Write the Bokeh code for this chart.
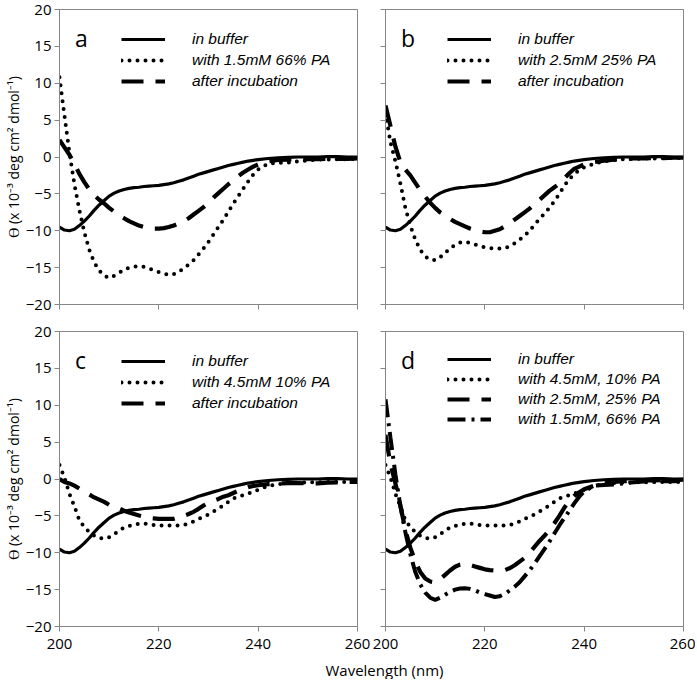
from bokeh.plotting import figure
from bokeh.layouts import column, row
from bokeh.models import Range1d, FixedTicker, Legend, LegendItem, Label
from bokeh.embed import file_html
from bokeh.resources import INLINE

# ---------------- data ----------------
wavelength = [200, 201, 202, 203, 204, 205, 206, 207, 208, 209,
              210, 211, 212, 213, 214, 215, 216, 217, 218, 219,
              220, 221, 222, 223, 224, 225, 226, 227, 228, 229,
              230, 231, 232, 233, 234, 235, 236, 237, 238, 239,
              240,
              242, 244, 246, 248, 250, 252, 254, 256, 258, 260]

in_buffer = [-9.5, -9.9, -10.0, -9.8, -9.3, -8.7, -8.0, -7.2, -6.5, -5.9,
             -5.3, -4.9, -4.6, -4.4, -4.25, -4.15, -4.1, -4.0, -3.95, -3.9,
             -3.85, -3.75, -3.65, -3.5, -3.3, -3.1, -2.85, -2.6, -2.35, -2.15,
             -1.95, -1.75, -1.55, -1.35, -1.15, -1.0, -0.85, -0.7, -0.55, -0.45,
             -0.35,
             -0.2, -0.1, -0.05, 0.0, 0.0, 0.0, 0.05, 0.05, 0.0, 0.0]

pa66_1_5mM = [10.8, 5.6, 0.6, -3.7, -7.2, -10.2, -12.6, -14.3, -15.4, -16.1,
              -16.4, -16.1, -15.7, -15.3, -15.0, -14.85, -14.8, -14.9, -15.1, -15.4,
              -15.6, -15.8, -16.0, -15.9, -15.6, -15.1, -14.6, -14.0, -13.2, -12.4,
              -11.5, -10.5, -9.5, -8.5, -7.4, -6.3, -5.3, -4.3, -3.3, -2.4,
              -1.7,
              -0.9, -0.8, -0.75, -0.6, -0.45, -0.35, -0.35, -0.3, -0.3, -0.25]

pa66_incubated = [2.3, 1.3, 0.3, -0.9, -2.3, -3.4, -4.4, -5.2, -5.8, -6.3,
                  -6.9, -7.4, -7.9, -8.3, -8.7, -9.0, -9.3, -9.5, -9.65, -9.7,
                  -9.7, -9.65, -9.5, -9.3, -9.0, -8.7, -8.3, -7.8, -7.3, -6.8,
                  -6.2, -5.5, -4.9, -4.3, -3.7, -3.2, -2.6, -2.1, -1.7, -1.3,
                  -1.0,
                  -0.6, -0.4, -0.35, -0.3, -0.3, -0.3, -0.25, -0.25, -0.25, -0.2]

pa25_2_5mM = [6.0, 2.0, -0.6, -3.6, -6.9, -9.3, -11.2, -12.6, -13.5, -13.9,
              -14.0, -13.6, -13.0, -12.4, -11.9, -11.6, -11.5, -11.65, -11.85, -12.05,
              -12.25, -12.35, -12.4, -12.4, -12.35, -12.1, -11.7, -11.2, -10.7, -10.0,
              -9.2, -8.4, -7.7, -6.9, -6.0, -5.0, -3.9, -3.0, -2.3, -1.8,
              -1.4,
              -0.9, -0.6, -0.4, -0.3, -0.25, -0.2, -0.2, -0.15, -0.15, -0.1]

pa25_incubated = [7.0, 4.2, 1.4, -0.7, -1.7, -2.5, -3.5, -4.5, -5.4, -6.2,
                  -6.9, -7.5, -7.9, -8.4, -8.8, -9.1, -9.4, -9.7, -9.9, -10.1,
                  -10.2, -10.2, -10.0, -9.8, -9.4, -9.0, -8.5, -8.0, -7.5, -7.0,
                  -6.4, -5.8, -5.2, -4.6, -4.1, -3.6, -2.9, -2.2, -1.6, -1.3,
                  -1.0,
                  -0.7, -0.5, -0.35, -0.25, -0.2, -0.2, -0.15, -0.15, -0.1, -0.1]

pa10_4_5mM = [1.9, 0.2, -2.0, -3.7, -5.6, -6.5, -7.2, -7.7, -8.0, -8.1,
              -7.9, -7.5, -7.0, -6.6, -6.35, -6.2, -6.05, -6.05, -6.15, -6.25,
              -6.3, -6.3, -6.3, -6.3, -6.3, -6.25, -6.0, -5.75, -5.4, -5.1,
              -4.8, -4.4, -4.0, -3.6, -3.1, -2.65, -2.4, -2.2, -1.95, -1.75,
              -1.45,
              -0.95, -0.7, -0.55, -0.5, -0.45, -0.45, -0.4, -0.4, -0.4, -0.4]

pa10_incubated = [0.0, -0.4, -0.6, -0.9, -1.3, -1.75, -2.1, -2.5, -2.8, -3.1,
                  -3.5, -3.8, -4.0, -4.3, -4.55, -4.75, -4.95, -5.1, -5.3, -5.35,
                  -5.4, -5.4, -5.4, -5.4, -5.2, -5.0, -4.75, -4.45, -4.05, -3.6,
                  -3.2, -2.95, -2.7, -2.4, -2.2, -1.9, -1.6, -1.35, -1.1, -0.95,
                  -0.85,
                  -0.7, -0.6, -0.55, -0.55, -0.6, -0.6, -0.5, -0.45, -0.4, -0.4]

x_ticks = [200, 220, 240, 260]
y_ticks = [-20, -15, -10, -5, 0, 5, 10, 15, 20]
y_title = "ϴ (x 10⁻³ deg cm² dmol⁻¹)"
x_title = "Wavelength (nm)"

# ---------------- styling ----------------
AX = "#868686"
FONT = "Open Sans"
LEG_FONT = "Liberation Sans"
P_W = 298
P_H = 295

STYLES = {
    "solid":   dict(line_width=3.2, line_dash="solid", line_cap="butt"),
    "dotted":  dict(line_width=4.0, line_dash="0 8", line_cap="round"),
    "dashed":  dict(line_width=4.2, line_dash="22 12", line_cap="butt"),
    "dashdot": dict(line_width=4.0, line_dash="18 6 3 6", line_cap="butt"),
}


def make_panel(left_col, top_row, letter, series, legend_y):
    bl = 59 if left_col else 14
    br = 14 if left_col else 12
    bt = 9 if top_row else 18
    bb = 9 if top_row else 31
    p = figure(width=bl + P_W + br, height=bt + P_H + bb,
               x_range=Range1d(200, 260), y_range=Range1d(-20, 20),
               toolbar_location=None, output_backend="svg",
               min_border_left=bl, min_border_right=br,
               min_border_top=bt, min_border_bottom=bb)
    p.xgrid.visible = False
    p.ygrid.visible = False
    p.outline_line_color = AX
    p.outline_line_width = 1
    p.background_fill_color = "white"
    p.border_fill_color = "white"

    p.xaxis.ticker = FixedTicker(ticks=x_ticks)
    p.yaxis.ticker = FixedTicker(ticks=y_ticks)
    for ax in (p.xaxis[0], p.yaxis[0]):
        ax.axis_line_color = AX
        ax.major_tick_line_color = AX
        ax.minor_tick_line_color = None
        ax.major_tick_in = 0
        ax.major_tick_out = 5
        ax.major_label_text_font = FONT
        ax.major_label_text_font_size = "15px"
        ax.major_label_text_color = "black"

    if top_row:
        # ticks only, no labels (as in the reference)
        p.xaxis.major_label_text_font_size = "0px"
        p.xaxis.major_label_text_color = None
        p.xaxis.major_label_standoff = 0
    else:
        p.xaxis.major_label_standoff = 7

    if left_col:
        p.yaxis.major_label_standoff = 3
        p.yaxis.axis_label = y_title
        p.yaxis.axis_label_text_font = FONT
        p.yaxis.axis_label_text_font_size = "14px"
        p.yaxis.axis_label_text_font_style = "normal"
        p.yaxis.axis_label_text_color = "black"
        p.yaxis.axis_label_standoff = 0
    else:
        p.yaxis.major_label_text_font_size = "0px"
        p.yaxis.major_label_text_color = None
        p.yaxis.major_label_standoff = 0

    items = []
    for label, ys, style in series:
        r = p.line(wavelength, ys, line_color="black", **STYLES[style])
        items.append(LegendItem(label=label, renderers=[r]))

    legend = Legend(items=items, location=(62, legend_y),
                    background_fill_alpha=0, border_line_alpha=0,
                    padding=0, margin=0,
                    spacing=1 if len(items) == 3 else 0,
                    glyph_width=44, glyph_height=20, label_height=20,
                    label_standoff=27,
                    label_text_font=LEG_FONT, label_text_font_style="italic",
                    label_text_font_size="15.5px", label_text_color="black")
    p.add_layout(legend)

    p.add_layout(Label(x=203.1, y=16.2, text=letter, text_font=FONT,
                       text_font_size="23px", text_color="black",
                       text_baseline="alphabetic", text_align="left"))
    return p


pa = make_panel(True, True, "a", [
    ("in buffer", in_buffer, "solid"),
    ("with 1.5mM 66% PA", pa66_1_5mM, "dotted"),
    ("after incubation", pa66_incubated, "dashed"),
], 213)

pb = make_panel(False, True, "b", [
    ("in buffer", in_buffer, "solid"),
    ("with 2.5mM 25% PA", pa25_2_5mM, "dotted"),
    ("after incubation", pa25_incubated, "dashed"),
], 213)

pc = make_panel(True, False, "c", [
    ("in buffer", in_buffer, "solid"),
    ("with 4.5mM 10% PA", pa10_4_5mM, "dotted"),
    ("after incubation", pa10_incubated, "dashed"),
], 213)

pd = make_panel(False, False, "d", [
    ("in buffer", in_buffer, "solid"),
    ("with 4.5mM, 10% PA", pa10_4_5mM, "dotted"),
    ("with 2.5mM, 25% PA", pa25_2_5mM, "dashed"),
    ("with 1.5mM, 66% PA", pa66_1_5mM, "dashdot"),
], 197)

strip = figure(width=695, height=22, x_axis_type=None, y_axis_type=None,
               toolbar_location=None, output_backend="svg", min_border=0,
               outline_line_color=None)
strip.xgrid.visible = False
strip.ygrid.visible = False
strip.add_layout(Label(x=384, y=10, x_units="screen", y_units="screen",
                       text=x_title, text_align="center", text_baseline="middle",
                       text_font=FONT, text_font_size="15px", text_color="black"))

layout = column(row(pa, pb), row(pc, pd), strip)

open("out.html", "w").write(file_html(layout, INLINE))
